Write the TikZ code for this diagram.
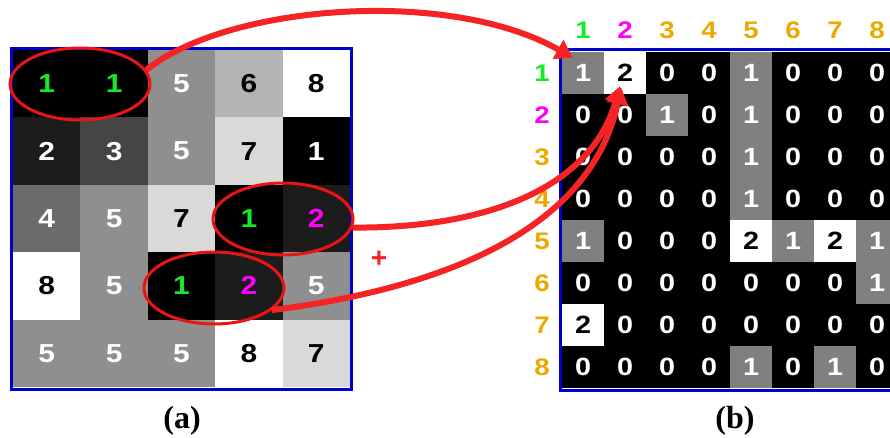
\documentclass[tikz,border=0pt]{standalone}
\usepackage{fontspec}
\setmainfont{Liberation Sans}
\newfontfamily\capfont{Liberation Serif}
\newfontfamily\digfont[FakeStretch=1.15]{Liberation Sans}
\usetikzlibrary{shapes.geometric,arrows.meta}
\definecolor{lv1}{RGB}{0,0,0}
\definecolor{lv2}{RGB}{28,28,28}
\definecolor{lv3}{RGB}{69,69,69}
\definecolor{lv4}{RGB}{107,107,107}
\definecolor{lv5}{RGB}{143,143,143}
\definecolor{lv6}{RGB}{180,180,180}
\definecolor{lv7}{RGB}{217,217,217}
\definecolor{lv8}{RGB}{255,255,255}
\definecolor{rv0}{RGB}{0,0,0}
\definecolor{rv1}{RGB}{128,128,128}
\definecolor{rv2}{RGB}{255,255,255}
\definecolor{rt0}{RGB}{255,255,255}
\definecolor{rt1}{RGB}{255,255,255}
\definecolor{rt2}{RGB}{0,0,0}
\definecolor{cG}{RGB}{20,235,40}
\definecolor{cM}{RGB}{255,0,255}
\definecolor{cO}{RGB}{235,170,0}
\definecolor{bordB}{RGB}{0,0,205}
\definecolor{redE}{RGB}{235,20,20}
\definecolor{redA}{RGB}{245,35,35}
\tikzset{
  cellL/.style={minimum size=67.4pt, inner sep=0pt, font=\digfont\bfseries\fontsize{26}{26}\selectfont},
  cellR/.style={minimum size=42pt, inner sep=0pt, font=\digfont\bfseries\fontsize{25}{25}\selectfont},
  idx/.style={inner sep=0pt, font=\digfont\bfseries\fontsize{24}{24}\selectfont},
  frame/.style={draw=bordB, line width=3pt},
  ring/.style={ellipse, draw=redE, line width=3pt, minimum width=140pt, minimum height=72pt, inner sep=0pt},
  bigarrow/.style={draw=redA, line width=6pt, -{Triangle[length=17pt,width=21pt]}},
  caption/.style={font=\capfont\bfseries\fontsize{32}{32}\selectfont}
}
\begin{document}
\begin{tikzpicture}[x=1pt,y=-1pt]
\useasboundingbox (0,0) rectangle (890,438);
\clip (0,0) rectangle (890,438);
\fill[white] (0,0) rectangle (890,438);
% left grid
\foreach \rowlist [count=\r] in {
  {1/cG,1/cG,5/white,6/black,8/black},
  {2/white,3/white,5/white,7/black,1/white},
  {4/white,5/white,7/black,1/cG,2/cM},
  {8/black,5/white,1/cG,2/cM,5/white},
  {5/white,5/white,5/white,8/black,7/black}} {
  \foreach \v/\tc [count=\c] in \rowlist {
    \node[cellL, fill=lv\v, text=\tc] (L-\r-\c) at ({13+67.4*(\c-0.5)},{50+67.4*(\r-0.5)}) {\v};
  }
}
\draw[frame] (11.5,48.5) rectangle (351.5,389.5);
% right grid
\foreach \rowlist [count=\r] in {
  {1,2,0,0,1,0,0,0},
  {0,0,1,0,1,0,0,0},
  {0,0,0,0,1,0,0,0},
  {0,0,0,0,1,0,0,0},
  {1,0,0,0,2,1,2,1},
  {0,0,0,0,0,0,0,1},
  {2,0,0,0,0,0,0,0},
  {0,0,0,0,1,0,1,0}} {
  \foreach \v [count=\c] in \rowlist {
    \node[cellR, fill=rv\v, text=rt\v] (R-\r-\c) at ({562+42*(\c-0.5)},{52+42*(\r-0.5)}) {\v};
  }
}
\draw[frame] (560,50) rectangle (900,390);
% indices
\foreach \i/\cc in {1/cG,2/cM,3/cO,4/cO,5/cO,6/cO,7/cO,8/cO} {
  \node[idx, text=\cc] (col-\i) at ({562+42*(\i-0.5)},30) {\i};
  \node[idx, text=\cc] (row-\i) at (542,{52+42*(\i-0.5)}) {\i};
}
% ellipses
\node[ring] (e1) at (80,84) {};
\node[ring] (e2) at (283,219) {};
\node[ring] (e3) at (214,288) {};
% plus
\node[text=redA, font=\bfseries\fontsize{28}{28}\selectfont, inner sep=0pt] (plus) at (379,259) {+};
% arrows
\draw[bigarrow] (e1.12) .. controls +(83,-66) and +(-123,-70) .. ([shift={(11,6)}]R-1-1.north west);
\draw[bigarrow] (e2.-7) .. controls +(130,1) and +(-30,104) .. ([shift={(-5,-8)}]R-1-2.south);
\draw[bigarrow] (e3.-21) .. controls +(150,-19) and +(-32,152) .. ([shift={(-4,-7)}]R-1-2.south);
% captions
\node[caption] (capA) at (182,421) {(a)};
\node[caption] (capB) at (735,421) {(b)};
\end{tikzpicture}
\end{document}
